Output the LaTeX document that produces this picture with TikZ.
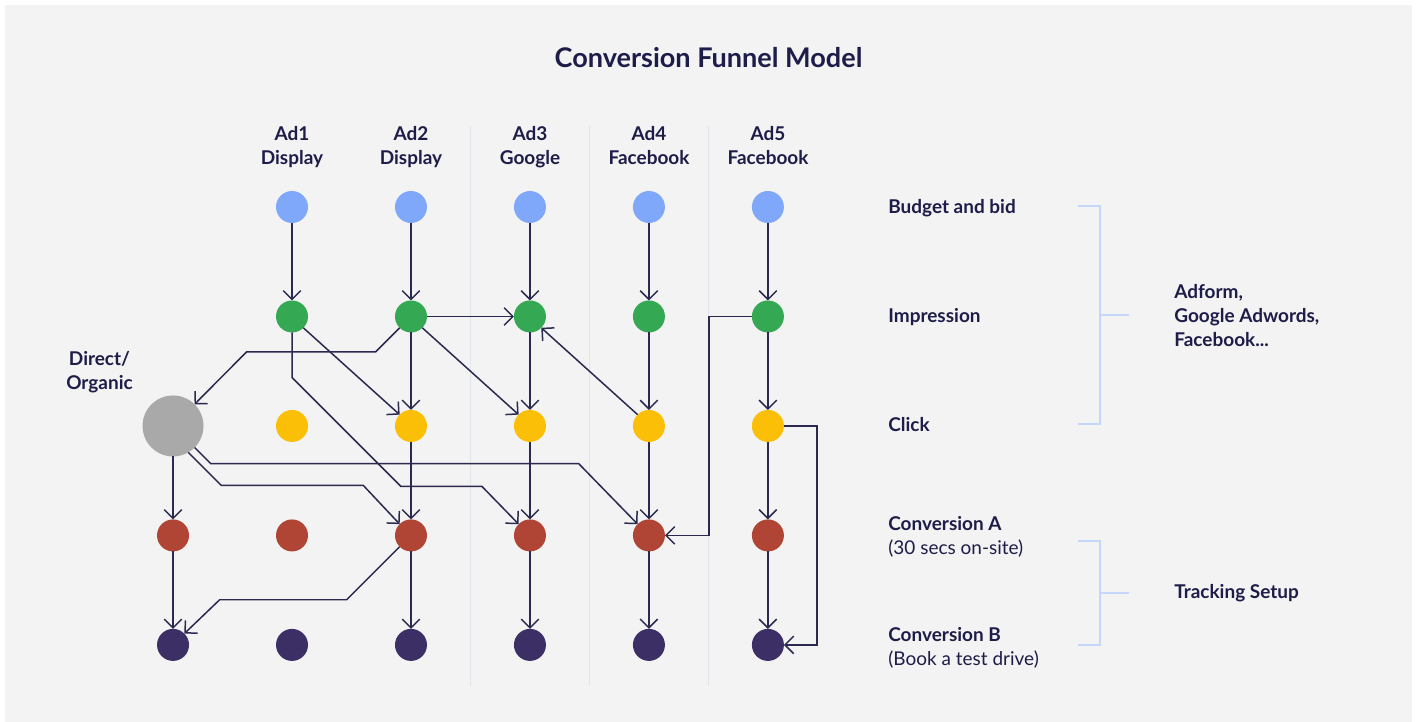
\documentclass[tikz,border=0pt]{standalone}
\usepackage{fontspec}
\setmainfont{Lato}
\usepackage{xcolor}
\usepackage{tikz}
\usetikzlibrary{arrows.meta, positioning}
\definecolor{pagebg}{HTML}{F2F3F2}
\definecolor{ink}{HTML}{1E1C48}
\definecolor{wire}{HTML}{2B2950}
\definecolor{sepline}{HTML}{DFE5EA}
\definecolor{bracket}{HTML}{C5D6FB}
\definecolor{budget}{HTML}{80A8FA}
\definecolor{impr}{HTML}{34A853}
\definecolor{click}{HTML}{FBBF07}
\definecolor{conva}{HTML}{B04535}
\definecolor{convb}{HTML}{3B2F65}
\definecolor{organic}{HTML}{A9A9A9}

\begin{document}
\begin{tikzpicture}[
  x=0.02cm, y=-0.02cm,
  node distance=1.55cm and 1.74cm,
  dot/.style={circle, draw=none, minimum size=0.64cm, inner sep=0pt, outer sep=0pt},
  direct/.style={circle, draw=none, fill=organic, minimum size=1.22cm, inner sep=0pt, outer sep=0pt},
  head/.style={font=\fontsize{10.8}{13.7}\selectfont\bfseries, text=ink, align=center, inner sep=0pt, anchor=base},
  lbl/.style={font=\fontsize{10.8}{13.7}\selectfont\bfseries, text=ink, align=left, inner sep=0pt, anchor=base west},
  arr/.style={-{Straight Barb[length=5pt, width=10pt]}, line width=0.85pt, wire},
  sep/.style={line width=1.1pt, sepline},
  brace/.style={line width=1pt, bracket},
]
  % page
  \fill[white] (0,0) rectangle (1416,722);
  \fill[pagebg] (5,5) rectangle (1412,722);

  % column separators
  \draw[sep] (470.5,126) -- (470.5,686);
  \draw[sep] (589.5,126) -- (589.5,686);
  \draw[sep] (708.5,126) -- (708.5,686);

  % title
  \node[font=\fontsize{15.4}{18}\selectfont\bfseries, text=ink, anchor=base, inner sep=0pt] (title) at (708.5,67.3) {Conversion Funnel Model};

  % funnel stages, one column per ad
  \node[dot, fill=budget] (b1) at (292,207) {};
  \node[dot, fill=budget, right=of b1] (b2) {};
  \node[dot, fill=budget, right=of b2] (b3) {};
  \node[dot, fill=budget, right=of b3] (b4) {};
  \node[dot, fill=budget, right=of b4] (b5) {};
  \node[dot, fill=impr, below=of b1] (i1) {};
  \node[dot, fill=impr, right=of i1] (i2) {};
  \node[dot, fill=impr, right=of i2] (i3) {};
  \node[dot, fill=impr, right=of i3] (i4) {};
  \node[dot, fill=impr, right=of i4] (i5) {};
  \node[dot, fill=click, below=of i1] (c1) {};
  \node[dot, fill=click, right=of c1] (c2) {};
  \node[dot, fill=click, right=of c2] (c3) {};
  \node[dot, fill=click, right=of c3] (c4) {};
  \node[dot, fill=click, right=of c4] (c5) {};
  \node[dot, fill=conva, below=of c1] (ca1) {};
  \node[dot, fill=conva, right=of ca1] (ca2) {};
  \node[dot, fill=conva, right=of ca2] (ca3) {};
  \node[dot, fill=conva, right=of ca3] (ca4) {};
  \node[dot, fill=conva, right=of ca4] (ca5) {};
  \node[dot, fill=convb, below=of ca1] (cb1) {};
  \node[dot, fill=convb, right=of cb1] (cb2) {};
  \node[dot, fill=convb, right=of cb2] (cb3) {};
  \node[dot, fill=convb, right=of cb3] (cb4) {};
  \node[dot, fill=convb, right=of cb4] (cb5) {};
  % direct / organic traffic
  \node[dot, fill=conva, left=of ca1] (da) {};
  \node[dot, fill=convb, left=of cb1] (db) {};
  \node[direct] (d) at (da |- c1) {};

  % headers (anchored on the last line)
  \node[head] (h1) at (292,165) {Ad1\\Display};
  \node[head] (h2) at (411,165) {Ad2\\Display};
  \node[head] (h3) at (530,165) {Ad3\\Google};
  \node[head] (h4) at (649,165) {Ad4\\Facebook};
  \node[head] (h5) at (768,165) {Ad5\\Facebook};
  \node[head] (hd) at (99.5,390) {Direct/\\Organic};

  % stage labels
  \node[lbl] (lbud) at (888,213.3) {Budget and bid};
  \node[lbl] (limp) at (888,322.7) {Impression};
  \node[lbl] (lclk) at (888,432) {Click};
  \node[lbl] (lca) at (888,554.5) {Conversion A\\\mdseries(30 secs on-site)};
  \node[lbl] (lcb) at (888,665.3) {Conversion B\\\mdseries(Book a test drive)};
  \node[lbl] (lads) at (1174,346.3) {Adform,\\Google Adwords,\\Facebook...};
  \node[lbl] (ltrk) at (1174,598.3) {Tracking Setup};

  % brackets
  \draw[brace] (1078,206) -- (1100,206) -- (1100,424) -- (1078,424);
  \draw[brace] (1100,315) -- (1129,315);
  \draw[brace] (1078,541) -- (1100,541) -- (1100,645) -- (1078,645);
  \draw[brace] (1100,593) -- (1129,593);

  % straight flow down each column
  \draw[arr] (b1) -- (i1); \draw[arr] (b2) -- (i2); \draw[arr] (b3) -- (i3); \draw[arr] (b4) -- (i4); \draw[arr] (b5) -- (i5);
  \draw[arr] (i2) -- (c2); \draw[arr] (i3) -- (c3); \draw[arr] (i4) -- (c4); \draw[arr] (i5) -- (c5);
  \draw[arr] (c2) -- (ca2); \draw[arr] (c3) -- (ca3); \draw[arr] (c4) -- (ca4); \draw[arr] (c5) -- (ca5);
  \draw[arr] (ca2) -- (cb2); \draw[arr] (ca3) -- (cb3); \draw[arr] (ca4) -- (cb4); \draw[arr] (ca5) -- (cb5);
  \draw[arr] (d) -- (da); \draw[arr] (da) -- (db);

  % cross-channel paths
  \draw[arr] (i1.south east) -- (c2.north west);
  \draw[arr] (i2.south east) -- (c3.north west);
  \draw[arr] (i2) -- (i3);
  \draw[arr] (c4.north west) -- (i3.south east);
  \draw[arr] (i2.south west) -- ++(-24,24) -- ++(-129,0) -- (d);
  \draw[arr] (ca2.south west) -- ++(-53,53) -- ++(-127,0) -- (db.north east);
  \draw[arr] (d.south east) -- ++(16,16) -- ++(368,0) -- (ca4.north west);
  \draw[arr] (d.-60) -- ++(33,33) -- ++(142,0) -- (ca2.north west);
  \draw[arr] (i1.south) -- ++(0,45) -- ++(109,109) -- ++(81,0) -- (ca3.north west);
  \draw[arr] (i5.west) -- ++(-43,0) |- (ca4.east);
  \draw[arr] (c5.east) -- ++(33,0) |- (cb5.east);
\end{tikzpicture}
\end{document}
